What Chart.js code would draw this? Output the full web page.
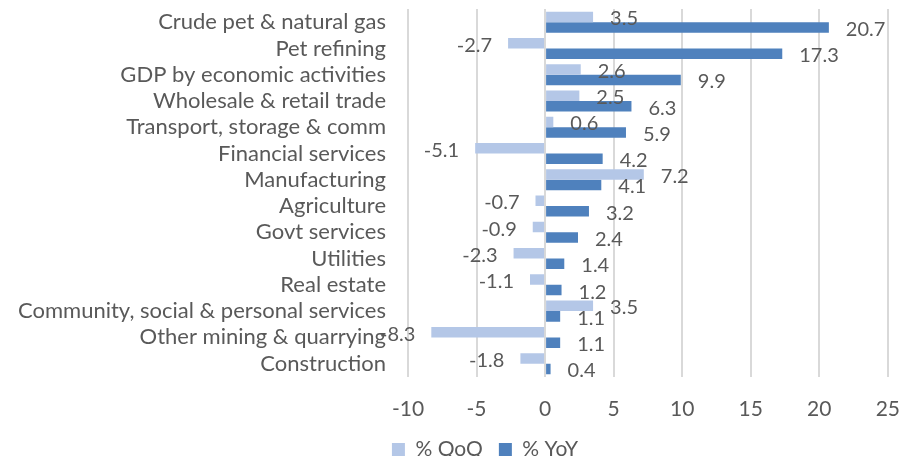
<!DOCTYPE html>
<html>
<head>
<meta charset="utf-8">
<script src="https://cdn.jsdelivr.net/npm/chart.js@4"></script>
<style>
  html, body { margin: 0; padding: 0; background: #fff; }
  #wrap { width: 920px; height: 456px; }
</style>
</head>
<body>
<div id="wrap"><canvas id="gdp-growth"></canvas></div>
<script>
var sectors = [
    "Crude pet & natural gas",
    "Pet refining",
    "GDP by economic activities",
    "Wholesale & retail trade",
    "Transport, storage & comm",
    "Financial services",
    "Manufacturing",
    "Agriculture",
    "Govt services",
    "Utilities",
    "Real estate",
    "Community, social & personal services",
    "Other mining & quarrying",
    "Construction",
];
var qoq = [3.5, -2.7, 2.6, 2.5, 0.6, -5.1, 7.2, -0.7, -0.9, -2.3, -1.1, 3.5, -8.3, -1.8];
var yoy = [20.7, 17.3, 9.9, 6.3, 5.9, 4.2, 4.1, 3.2, 2.4, 1.4, 1.2, 1.1, 1.1, 0.4];
var xTicks = [-10, -5, 0, 5, 10, 15, 20, 25];

var textColor = "#595959";
var fontFamily = "Lato, 'Open Sans', sans-serif";

// value labels at the end of each bar
var barLabels = {
    id: "barLabels",
    afterLayout(chart) {
        // legend sits a little right of the canvas centre
        chart.legend.left += 41;
        chart.legend.right += 41;
    },
    afterDatasetsDraw(chart) {
        var ctx = chart.ctx;
        ctx.save();
        ctx.font = "20px " + fontFamily;
        ctx.fillStyle = textColor;
        ctx.textBaseline = "middle";
        chart.data.datasets.forEach((ds, i) => {
            chart.getDatasetMeta(i).data.forEach((bar, j) => {
                var v = ds.data[j];
                if (v < 0) {
                    ctx.textAlign = "right";
                    ctx.fillText(v.toFixed(1), bar.x - 16, bar.y + 2);
                } else {
                    ctx.textAlign = "left";
                    ctx.fillText(v.toFixed(1), bar.x + 17, bar.y + 2);
                }
            });
        });
        ctx.restore();
    },
};

var ctx = document.getElementById("gdp-growth").getContext("2d");
var myChart = new Chart(ctx, {
    type: "bar",
    data: {
        labels: sectors,
        datasets: [
            {
                label: "% QoQ",
                data: qoq,
                backgroundColor: "#B4C7E7",
            },
            {
                label: "% YoY",
                data: yoy,
                backgroundColor: "#4F81BD",
            },
        ],
    },
    options: {
        indexAxis: "y",
        responsive: true,
        maintainAspectRatio: false,
        animation: false,
        categoryPercentage: 0.8,
        barPercentage: 1.0,
        layout: { padding: { top: 9, right: 32, bottom: -14, left: 0 } },
        scales: {
            x: {
                min: -10,
                max: 25,
                afterBuildTicks: (scale) => {
                    scale.ticks = xTicks.map((v) => ({ value: v }));
                },
                afterFit: (scale) => {
                    scale.height -= 19;
                },
                grid: { color: "#D9D9D9", lineWidth: 2, drawTicks: false },
                border: { display: false },
                ticks: {
                    color: textColor,
                    padding: 20,
                    font: { family: fontFamily, size: 21 },
                },
            },
            y: {
                grid: { display: false, drawTicks: false },
                border: { display: false },
                afterFit: (scale) => {
                    scale.width = 408;
                    scale.paddingTop = 0;
                    scale.paddingBottom = 0;
                },
                ticks: {
                    color: textColor,
                    padding: 22,
                    autoSkip: false,
                    font: { family: fontFamily, size: 22 },
                },
            },
        },
        plugins: {
            legend: {
                position: "bottom",
                labels: {
                    color: textColor,
                    boxWidth: 13,
                    boxHeight: 13,
                    padding: 16,
                    font: { family: fontFamily, size: 21 },
                },
            },
            tooltip: { enabled: false },
        },
    },
    plugins: [barLabels],
});
</script>
</body>
</html>
